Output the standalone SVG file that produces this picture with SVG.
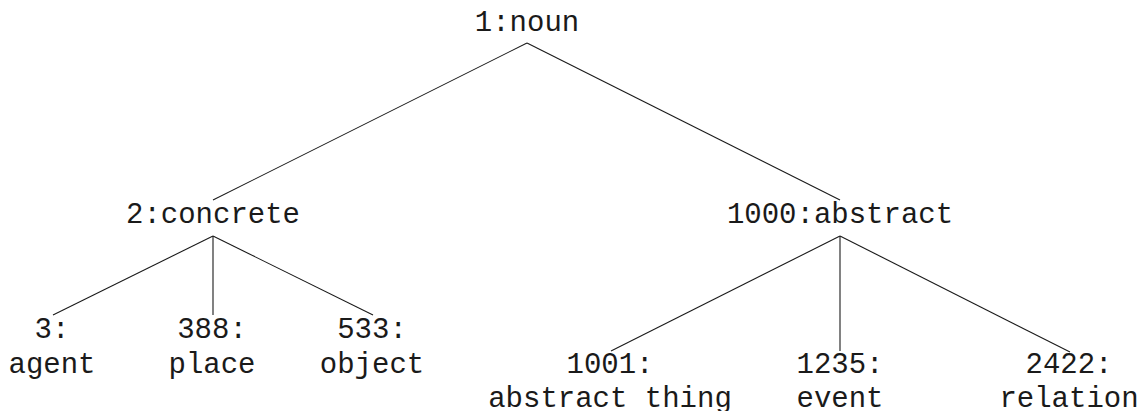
<svg xmlns="http://www.w3.org/2000/svg" width="1141" height="411" viewBox="0 0 1141 411">
<style>
text{font-family:"Liberation Mono","Courier New",monospace;font-size:29px;fill:#1a1a1a;text-anchor:middle}
.e line{stroke:#1a1a1a;stroke-width:1.1;fill:none}
</style>
<rect width="1141" height="411" fill="#fff"/>
<g class="e" id="connectors">
<line x1="527" y1="43" x2="213" y2="200"/>
<line x1="527" y1="43" x2="840" y2="200"/>
<line x1="213" y1="236" x2="53" y2="315"/>
<line x1="213" y1="236" x2="213" y2="315"/>
<line x1="213" y1="236" x2="373" y2="315"/>
<line x1="840" y1="236" x2="611" y2="351"/>
<line x1="840" y1="236" x2="840" y2="351"/>
<line x1="840" y1="236" x2="1070" y2="352"/>
</g>
<g id="n1"><text x="527" y="31">1:noun</text></g>
<g id="n2"><text x="213" y="223">2:concrete</text></g>
<g id="n1000"><text x="840" y="223">1000:abstract</text></g>
<g id="n3"><text x="52" y="338">3:</text><text x="52" y="373">agent</text></g>
<g id="n388"><text x="212" y="338">388:</text><text x="212" y="373">place</text></g>
<g id="n533"><text x="372" y="338">533:</text><text x="372" y="373">object</text></g>
<g id="n1001"><text x="610" y="373">1001:</text><text x="610" y="407">abstract thing</text></g>
<g id="n1235"><text x="840" y="373">1235:</text><text x="840" y="407">event</text></g>
<g id="n2422"><text x="1069" y="373">2422:</text><text x="1069" y="407">relation</text></g>
</svg>
